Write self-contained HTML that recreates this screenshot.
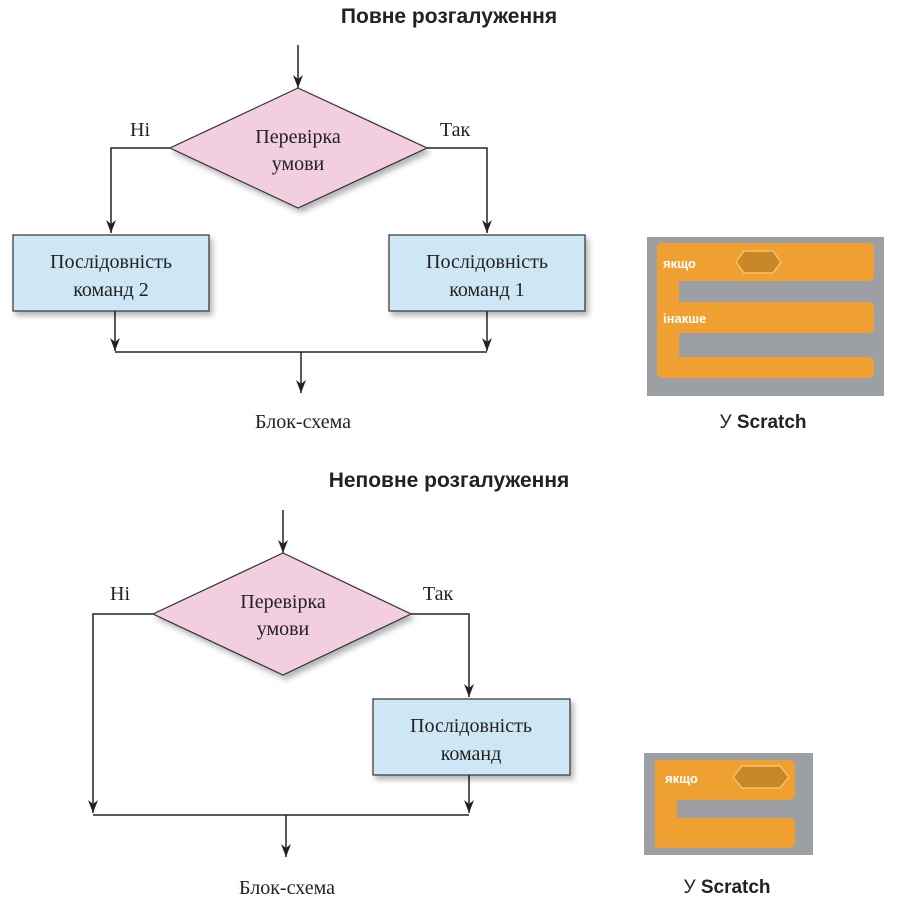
<!DOCTYPE html>
<html><head><meta charset="utf-8"><style>
body{margin:0;background:#fff;}
svg{display:block}
.t{font-family:"Liberation Sans",sans-serif;font-weight:bold;font-size:21px;fill:#222}
.s{font-family:"Liberation Serif",serif;font-size:20px;fill:#222}
.sc{font-family:"Liberation Sans",sans-serif;font-weight:bold;font-size:13px;fill:#fff}
</style></head><body>
<svg width="924" height="906" viewBox="0 0 924 906" xmlns="http://www.w3.org/2000/svg">
<defs>
<marker id="a" markerWidth="14" markerHeight="10" refX="13" refY="5" orient="auto" markerUnits="userSpaceOnUse">
<path d="M0,0 L13,5 L0,10 L4,5 Z" fill="#222"/></marker>
<filter id="sh" x="-10%" y="-10%" width="125%" height="135%"><feDropShadow dx="3" dy="4" stdDeviation="3" flood-color="#000" flood-opacity="0.3"/></filter>
</defs>
<g stroke="#222" stroke-width="1.5" fill="none">
<line x1="298" y1="45" x2="298" y2="88" marker-end="url(#a)"/>
<polyline points="170,148 111,148 111,233" marker-end="url(#a)"/>
<polyline points="427,148 487,148 487,233" marker-end="url(#a)"/>
<line x1="115" y1="311" x2="115" y2="351" marker-end="url(#a)"/>
<line x1="487" y1="311" x2="487" y2="351" marker-end="url(#a)"/>
<line x1="115" y1="352" x2="487" y2="352"/>
<line x1="301" y1="352" x2="301" y2="393" marker-end="url(#a)"/>
<line x1="283" y1="510" x2="283" y2="553" marker-end="url(#a)"/>
<polyline points="153,614 93,614 93,813" marker-end="url(#a)"/>
<polyline points="411,614 469,614 469,697" marker-end="url(#a)"/>
<line x1="469" y1="775" x2="469" y2="813" marker-end="url(#a)"/>
<line x1="93" y1="815" x2="469" y2="815"/>
<line x1="286" y1="815" x2="286" y2="857" marker-end="url(#a)"/>
</g>
<g stroke="#333" stroke-width="1.2">
<polygon points="298,88 427,148 298,208 170,148" fill="#f3cde0" filter="url(#sh)"/>
<rect x="13" y="235" width="196" height="76" fill="#cde8f4" filter="url(#sh)"/>
<rect x="389" y="235" width="196" height="76" fill="#cde8f4" filter="url(#sh)"/>
<polygon points="283,553 411,614 283,675 153,614" fill="#f3cde0" filter="url(#sh)"/>
<rect x="373" y="699" width="197" height="76" fill="#cde8f4" filter="url(#sh)"/>
</g>
<text class="t" x="449" y="23" text-anchor="middle">Повне розгалуження</text>
<text class="t" x="449" y="487" text-anchor="middle">Неповне розгалуження</text>
<g class="s" text-anchor="middle">
<text x="298" y="143">Перевірка</text><text x="298" y="170">умови</text>
<text x="140" y="136">Ні</text><text x="455" y="136">Так</text>
<text x="111" y="268">Послідовність</text><text x="111" y="296">команд 2</text>
<text x="487" y="268">Послідовність</text><text x="487" y="296">команд 1</text>
<text x="303" y="428">Блок-схема</text>
<text x="283" y="608">Перевірка</text><text x="283" y="635">умови</text>
<text x="120" y="600">Ні</text><text x="438" y="600">Так</text>
<text x="471" y="732">Послідовність</text><text x="471" y="760">команд</text>
<text x="287" y="894">Блок-схема</text>
</g>
<text x="763" y="428" text-anchor="middle" style="font-family:'Liberation Sans',sans-serif;font-size:19px;fill:#222">У <tspan font-weight="bold">Scratch</tspan></text>
<text x="727" y="893" text-anchor="middle" style="font-family:'Liberation Sans',sans-serif;font-size:19px;fill:#222">У <tspan font-weight="bold">Scratch</tspan></text>
<rect x="647" y="237" width="237" height="159" fill="#9c9fa4"/>
<g fill="#f0a030">
<rect x="657" y="243" width="217" height="38" rx="5"/>
<rect x="657" y="243" width="22" height="134" rx="4"/>
<rect x="657" y="302" width="217" height="31" rx="5"/>
<rect x="657" y="357" width="217" height="21" rx="5"/>
</g>
<polygon points="736,262 744,251 773,251 781,262 773,273 744,273" fill="#c8882a" stroke="#f7c060" stroke-width="1.5"/>
<text class="sc" x="663" y="268">якщо</text>
<text class="sc" x="663" y="323">інакше</text>
<rect x="644" y="753" width="169" height="102" fill="#9c9fa4"/>
<g fill="#f0a030">
<rect x="655" y="760" width="140" height="40" rx="5"/>
<rect x="655" y="760" width="22" height="88" rx="4"/>
<rect x="655" y="818" width="140" height="30" rx="5"/>
</g>
<polygon points="733,777 742,766 780,766 789,777 780,788 742,788" fill="#c8882a" stroke="#f7c060" stroke-width="1.5"/>
<text class="sc" x="665" y="783">якщо</text>
</svg>
</body></html>
